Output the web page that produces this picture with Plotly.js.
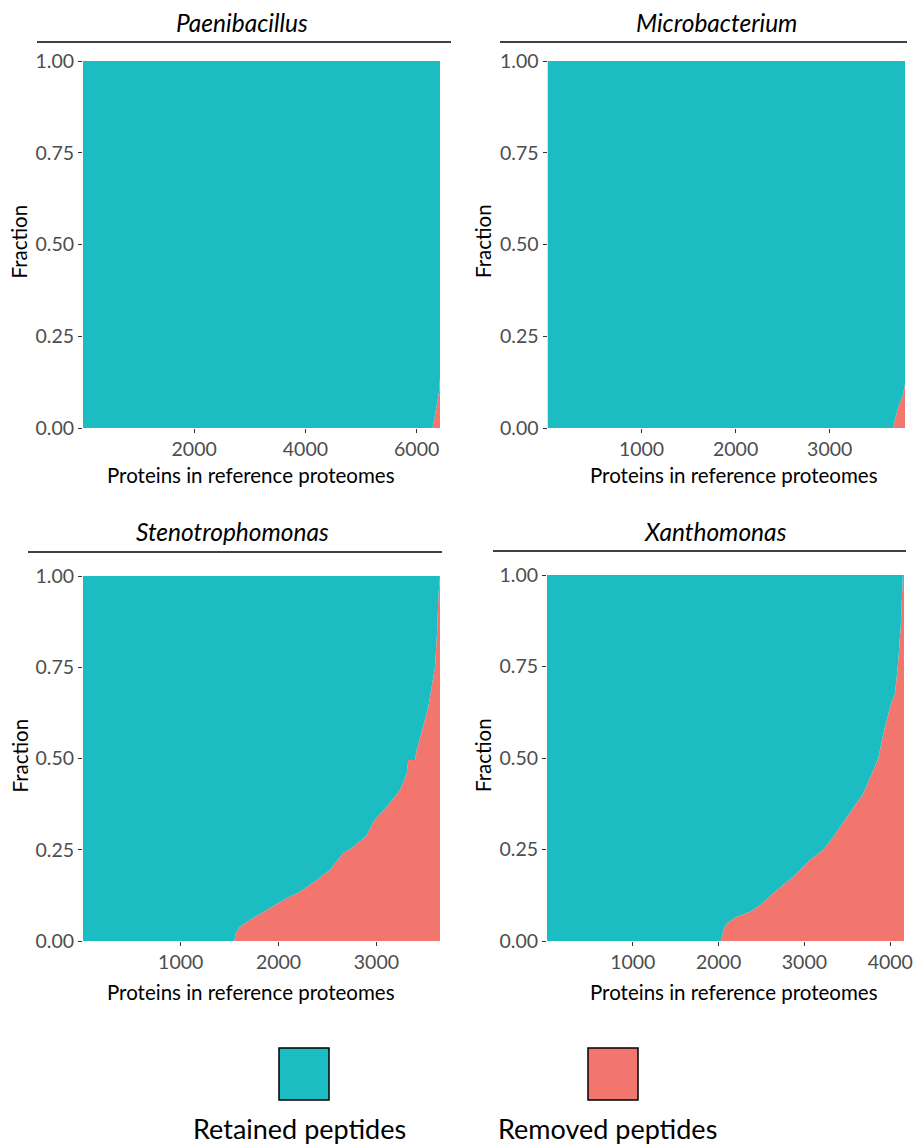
<!DOCTYPE html>
<html>
<head>
<meta charset="utf-8">
<script src="https://cdn.plot.ly/plotly-3.0.1.min.js"></script>
<style>html,body{margin:0;padding:0;background:#fff;}#chart{width:913px;height:1144px;}</style>
</head>
<body>
<div id="chart"></div>
<script>
// ---------------- DATA ----------------
const species = ["Paenibacillus", "Microbacterium", "Stenotrophomonas", "Xanthomonas"];
const proteinCounts = [6420, 3800, 3650, 4160];

// protein index breakpoints and fractions (removed / retained)
const paeniX        = [1, 6280, 6300, 6328, 6360, 6387, 6405, 6420];
const paeniRemoved  = [0, 0, 0.01, 0.035, 0.055, 0.076, 0.10, 0.14];
const paeniRetained = [1, 1, 0.99, 0.965, 0.945, 0.924, 0.90, 0.86];

const microX        = [1, 3676, 3690, 3710, 3729, 3755, 3779, 3800];
const microRemoved  = [0, 0, 0.02, 0.04, 0.058, 0.075, 0.09, 0.12];
const microRetained = [1, 1, 0.98, 0.96, 0.942, 0.925, 0.91, 0.88];

const stenoX        = [1, 1547, 1560, 1605, 1708, 1878, 2083, 2219, 2390, 2526, 2662, 2747, 2901, 2969, 3105, 3241, 3310, 3326, 3395, 3412, 3480, 3531, 3599, 3623, 3633, 3643, 3650];
const stenoRemoved  = [0, 0, 0.02, 0.039, 0.058, 0.085, 0.117, 0.135, 0.167, 0.195, 0.242, 0.254, 0.29, 0.327, 0.368, 0.414, 0.459, 0.496, 0.496, 0.523, 0.587, 0.642, 0.751, 0.861, 0.943, 0.998, 1.0];
const stenoRetained = [1, 1, 0.98, 0.961, 0.942, 0.915, 0.883, 0.865, 0.833, 0.805, 0.758, 0.746, 0.71, 0.673, 0.632, 0.586, 0.541, 0.504, 0.504, 0.477, 0.413, 0.358, 0.249, 0.139, 0.057, 0.002, 0.0];

const xanthoX        = [1, 2028, 2055, 2094, 2211, 2366, 2483, 2677, 2871, 3065, 3220, 3337, 3473, 3551, 3687, 3803, 3861, 3920, 3998, 4056, 4094, 4122, 4146, 4160];
const xanthoRemoved  = [0, 0, 0.03, 0.048, 0.066, 0.08, 0.098, 0.139, 0.176, 0.221, 0.249, 0.285, 0.331, 0.358, 0.404, 0.467, 0.499, 0.567, 0.64, 0.677, 0.768, 0.859, 0.995, 1.0];
const xanthoRetained = [1, 1, 0.97, 0.952, 0.934, 0.92, 0.902, 0.861, 0.824, 0.779, 0.751, 0.715, 0.669, 0.642, 0.596, 0.533, 0.501, 0.433, 0.36, 0.323, 0.232, 0.141, 0.005, 0.0];

const xTickVals = [[2000, 4000, 6000], [1000, 2000, 3000], [1000, 2000, 3000], [1000, 2000, 3000, 4000]];
const yTickVals = [0, 0.25, 0.5, 0.75, 1];
const yTickText = ["0.00", "0.25", "0.50", "0.75", "1.00"];
const seriesNames = ["Removed peptides", "Retained peptides"];
const xTitle = "Proteins in reference proteomes";
const yTitle = "Fraction";

// ---------------- STYLE ----------------
const W = 913, H = 1144;
const TEAL = "rgb(28,189,194)";
const RED = "rgb(243,118,110)";
const FONT = "Lato, 'Open Sans', sans-serif";
const fx = p => p / W;
const fy = p => 1 - p / H;

const panels = [
  {x: paeniX, rem: paeniRemoved, ret: paeniRetained, px: [83, 440], py: [61, 428], line: [37, 451, 42], title: [242, 22], xt: [251, 475]},
  {x: microX, rem: microRemoved, ret: microRetained, px: [547.5, 905], py: [61, 428], line: [500, 907, 42], title: [716, 22], xt: [734, 475]},
  {x: stenoX, rem: stenoRemoved, ret: stenoRetained, px: [83, 440], py: [576, 941], line: [28, 442, 552], title: [232, 531], xt: [251, 992]},
  {x: xanthoX, rem: xanthoRemoved, ret: xanthoRetained, px: [547, 904], py: [575, 941], line: [493, 906, 551], title: [715, 531], xt: [734, 992]}
];

const data = [];
const layout = {
  width: W, height: H,
  margin: {l: 0, r: 0, t: 0, b: 0},
  paper_bgcolor: "#fff", plot_bgcolor: "#fff",
  showlegend: false,
  font: {family: FONT, color: "#000"},
  shapes: [], annotations: []
};

panels.forEach((p, i) => {
  const n = i + 1;
  const xa = "x" + (n === 1 ? "" : n), ya = "y" + (n === 1 ? "" : n);
  data.push({
    type: "scatter", mode: "lines", x: p.x, y: p.rem, xaxis: xa, yaxis: ya,
    stackgroup: "g" + n, name: seriesNames[0],
    line: {width: 0, color: RED}, fillcolor: RED, hoverinfo: "skip"
  });
  data.push({
    type: "scatter", mode: "lines", x: p.x, y: p.ret, xaxis: xa, yaxis: ya,
    stackgroup: "g" + n, name: seriesNames[1],
    line: {width: 0, color: TEAL}, fillcolor: TEAL, hoverinfo: "skip"
  });
  const xk = "xaxis" + (n === 1 ? "" : n), yk = "yaxis" + (n === 1 ? "" : n);
  layout[xk] = {
    domain: [fx(p.px[0]), fx(p.px[1])], anchor: ya,
    range: [1, proteinCounts[i]], tickvals: xTickVals[i],
    ticks: "outside", ticklen: 4, tickcolor: "#333", tickwidth: 1,
    tickfont: {family: FONT, size: 19.5, color: "#4D4D4D"},
    showgrid: false, zeroline: false, showline: false, automargin: false
  };
  layout[yk] = {
    domain: [fy(p.py[1]), fy(p.py[0])], anchor: xa,
    range: [0, 1], tickvals: yTickVals, ticktext: yTickText,
    ticks: "outside", ticklen: 4, tickcolor: "#333", tickwidth: 1,
    tickfont: {family: FONT, size: 19.5, color: "#4D4D4D"},
    showgrid: false, zeroline: false, showline: false, automargin: false
  };
  // axis titles
  layout.annotations.push({xref: "paper", yref: "paper", x: fx(p.xt[0]), y: fy(p.xt[1]),
    text: xTitle, showarrow: false, xanchor: "center", yanchor: "middle",
    font: {family: FONT, size: 20.5, color: "#000"}});
  layout.annotations.push({xref: "paper", yref: "paper", x: fx(p.px[0] - 64), y: fy((p.py[0] + p.py[1]) / 2 - 3),
    text: yTitle, showarrow: false, xanchor: "center", yanchor: "middle", textangle: -90,
    font: {family: FONT, size: 20.5, color: "#000"}});
  // strip header
  layout.shapes.push({type: "line", xref: "paper", yref: "paper",
    x0: fx(p.line[0]), x1: fx(p.line[1]), y0: fy(p.line[2]), y1: fy(p.line[2]),
    line: {color: "#000", width: 1.3}});
  layout.annotations.push({xref: "paper", yref: "paper", x: fx(p.title[0]), y: fy(p.title[1]),
    text: "<i>" + species[i] + "</i>", showarrow: false, xanchor: "center", yanchor: "middle",
    font: {family: FONT, size: 24.5, color: "#000"}});
});

// legend (drawn below the panels)
const legendItems = [
  {name: seriesNames[1], color: TEAL, box: [279, 329], cx: 299},
  {name: seriesNames[0], color: RED, box: [588, 638], cx: 607.5}
];
legendItems.forEach(it => {
  layout.shapes.push({type: "rect", xref: "paper", yref: "paper",
    x0: fx(it.box[0]), x1: fx(it.box[1]), y0: fy(1100), y1: fy(1048),
    fillcolor: it.color, line: {color: "#000", width: 1.5}});
  layout.annotations.push({xref: "paper", yref: "paper", x: fx(it.cx), y: fy(1128),
    text: it.name, showarrow: false, xanchor: "center", yanchor: "middle",
    font: {family: FONT, size: 27, color: "#000"}});
});

Plotly.newPlot("chart", data, layout, {staticPlot: true});
</script>
</body>
</html>
